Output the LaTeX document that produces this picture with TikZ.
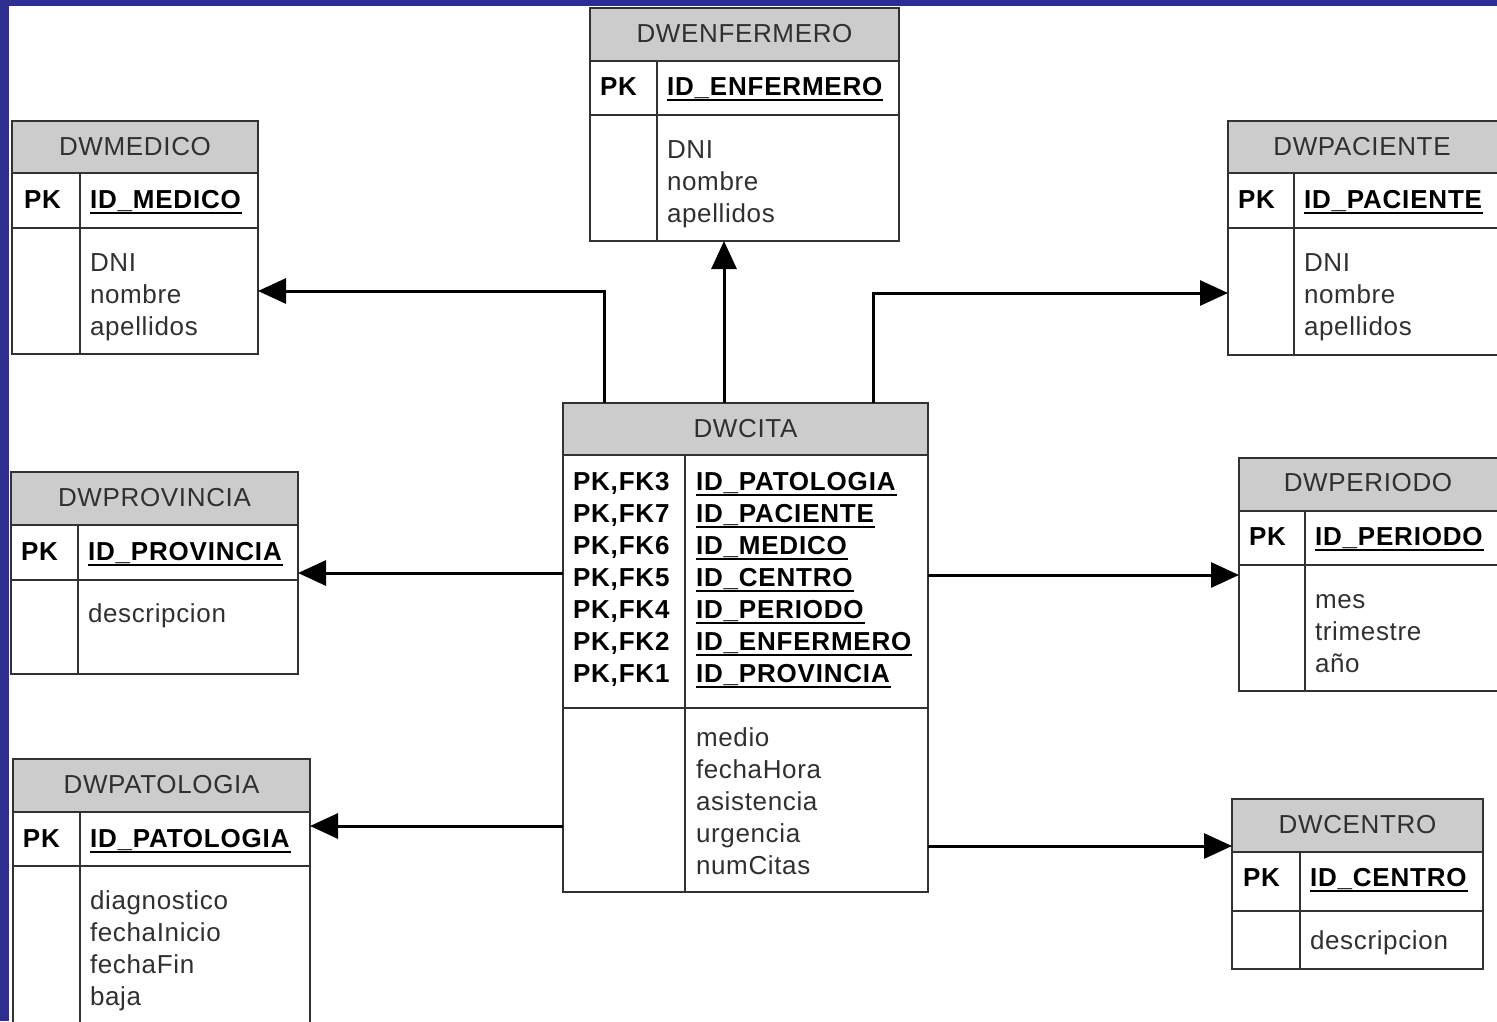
\documentclass[tikz,border=0pt]{standalone}
\usepackage{fontspec}
\setmainfont[LetterSpace=2.5, BoldFeatures={LetterSpace=3.1}]{Liberation Sans}
\usetikzlibrary{arrows.meta}

\definecolor{frameblue}{RGB}{46,46,142}
\definecolor{headgray}{RGB}{204,204,204}
\definecolor{inkgray}{RGB}{48,48,48}
\definecolor{rulegray}{RGB}{50,50,50}

% underlined key attribute name
\newcommand\keyname[1]{\sbox0{#1}\rlap{\rule[-5pt]{\dimexpr\wd0+1pt\relax}{1.8pt}}\usebox0}

% table frame: name, x, y, width, height, header height, key-row bottom, column divider
\newcommand\dwtable[8]{%
  \node[tablebox, minimum width=#4, minimum height=#5, anchor=north west] (#1) at (#2,#3) {};
  \fill[headgray] (#1.north west) rectangle ([yshift=-#6]#1.north east);
  \draw[tablerule] ([yshift=-#6]#1.north west) -- ([yshift=-#6]#1.north east)
    ([yshift=-#7]#1.north west) -- ([yshift=-#7]#1.north east)
    ([xshift=#8,yshift=-#6]#1.north west) -- ([xshift=#8]#1.south west);
  \draw[tablerule] (#1.north west) rectangle (#1.south east);
}

% plain attributes, one per line: name, x, first baseline, list
\newcommand\attrlist[4]{%
  \foreach \t [count=\i from 0] in {#4}
    \node[attr] (#1-a\i) at (#2,#3+32*\i) {\t};
}

\begin{document}
\begin{tikzpicture}[x=1pt,y=-1pt,
  every node/.style={inner sep=0pt, outer sep=0pt, font=\fontsize{26}{32}\selectfont},
  tablebox/.style={rectangle, inner sep=0pt, outer sep=0pt},
  tablerule/.style={draw=rulegray, line width=2pt},
  title/.style={anchor=base, text=inkgray},
  keycol/.style={anchor=base west, text=black, font=\fontsize{26}{32}\selectfont\bfseries},
  attr/.style={anchor=base west, text=inkgray},
  fk/.style={draw=black, line width=3pt, -{Triangle[length=28pt,width=25pt]}}]

\useasboundingbox (0,0) rectangle (1497,1021);
\clip (0,0) rectangle (1497,1021);

% slide frame
\fill[frameblue] (0,0) rectangle (1497,5.5);
\fill[frameblue] (0,0) rectangle (8.5,1021);

% tables
\dwtable{enfermero}{590}{8}{309}{233}{53}{107}{67}
\dwtable{medico}{12}{121}{246}{233}{52}{107}{68}
\dwtable{paciente}{1228}{121}{274}{234}{52}{107}{66}
\dwtable{cita}{563}{403}{365}{489}{52}{305}{122}
\dwtable{provincia}{11}{472}{287}{202}{53}{108}{67}
\dwtable{periodo}{1239}{458}{264}{233}{53}{107}{66}
\dwtable{patologia}{13}{759}{297}{300}{53}{107}{67}
\dwtable{centro}{1232}{799}{251}{170}{53}{112}{68}

% DWENFERMERO
\node[title] (enfermero-t) at (744.5,42.5) {DWENFERMERO};
\node[keycol] (enfermero-pk) at (600,95.5) {PK};
\node[keycol] (enfermero-id) at (667,95.5) {\keyname{ID\_ENFERMERO}};
\attrlist{enfermero}{667}{158.5}{DNI,nombre,apellidos}

% DWMEDICO
\node[title] (medico-t) at (135,155.5) {DWMEDICO};
\node[keycol] (medico-pk) at (24,208.5) {PK};
\node[keycol] (medico-id) at (90,208.5) {\keyname{ID\_MEDICO}};
\attrlist{medico}{90}{271.5}{DNI,nombre,apellidos}

% DWPACIENTE
\node[title] (paciente-t) at (1362,155.5) {DWPACIENTE};
\node[keycol] (paciente-pk) at (1238,208.5) {PK};
\node[keycol] (paciente-id) at (1304,208.5) {\keyname{ID\_PACIENTE}};
\attrlist{paciente}{1304}{271.5}{DNI,nombre,apellidos}

% DWCITA
\node[title] (cita-t) at (745.5,437.5) {DWCITA};
\foreach \k/\f [count=\i from 0] in {{PK,FK3}/ID\_PATOLOGIA, {PK,FK7}/ID\_PACIENTE,
    {PK,FK6}/ID\_MEDICO, {PK,FK5}/ID\_CENTRO, {PK,FK4}/ID\_PERIODO,
    {PK,FK2}/ID\_ENFERMERO, {PK,FK1}/ID\_PROVINCIA} {
  \node[keycol] (cita-k\i) at (573,490.5+32*\i) {\k};
  \node[keycol] (cita-id\i) at (696,490.5+32*\i) {\keyname{\f}};
}
\attrlist{cita}{696}{746.5}{medio,fechaHora,asistencia,urgencia,numCitas}

% DWPROVINCIA
\node[title] (provincia-t) at (154.5,506.5) {DWPROVINCIA};
\node[keycol] (provincia-pk) at (21,560.5) {PK};
\node[keycol] (provincia-id) at (88,560.5) {\keyname{ID\_PROVINCIA}};
\attrlist{provincia}{88}{622}{descripcion}

% DWPERIODO
\node[title] (periodo-t) at (1368,491.5) {DWPERIODO};
\node[keycol] (periodo-pk) at (1249,545.5) {PK};
\node[keycol] (periodo-id) at (1315,545.5) {\keyname{ID\_PERIODO}};
\attrlist{periodo}{1315}{608}{mes,trimestre,año}

% DWPATOLOGIA
\node[title] (patologia-t) at (161.5,793.5) {DWPATOLOGIA};
\node[keycol] (patologia-pk) at (23,847.5) {PK};
\node[keycol] (patologia-id) at (90,847.5) {\keyname{ID\_PATOLOGIA}};
\attrlist{patologia}{90}{909}{diagnostico,fechaInicio,fechaFin,baja}

% DWCENTRO
\node[title] (centro-t) at (1357.5,833.5) {DWCENTRO};
\node[keycol] (centro-pk) at (1243,886.5) {PK};
\node[keycol] (centro-id) at (1310,886.5) {\keyname{ID\_CENTRO}};
\attrlist{centro}{1310}{949}{descripcion}

% foreign key references
\draw[fk] ([xshift=41]cita.north west) |- (medico.east |- 0,291);
\draw[fk] ([xshift=161]cita.north west) -- (enfermero.south -| 724,0);
\draw[fk] ([xshift=310]cita.north west) |- (paciente.west |- 0,293);
\draw[fk] (cita.west |- 0,573) -- (provincia.east |- 0,573);
\draw[fk] (cita.east |- 0,575) -- (periodo.west |- 0,575);
\draw[fk] (cita.west |- 0,826) -- (patologia.east |- 0,826);
\draw[fk] (cita.east |- 0,846) -- (centro.west |- 0,846);
\end{tikzpicture}
\end{document}
